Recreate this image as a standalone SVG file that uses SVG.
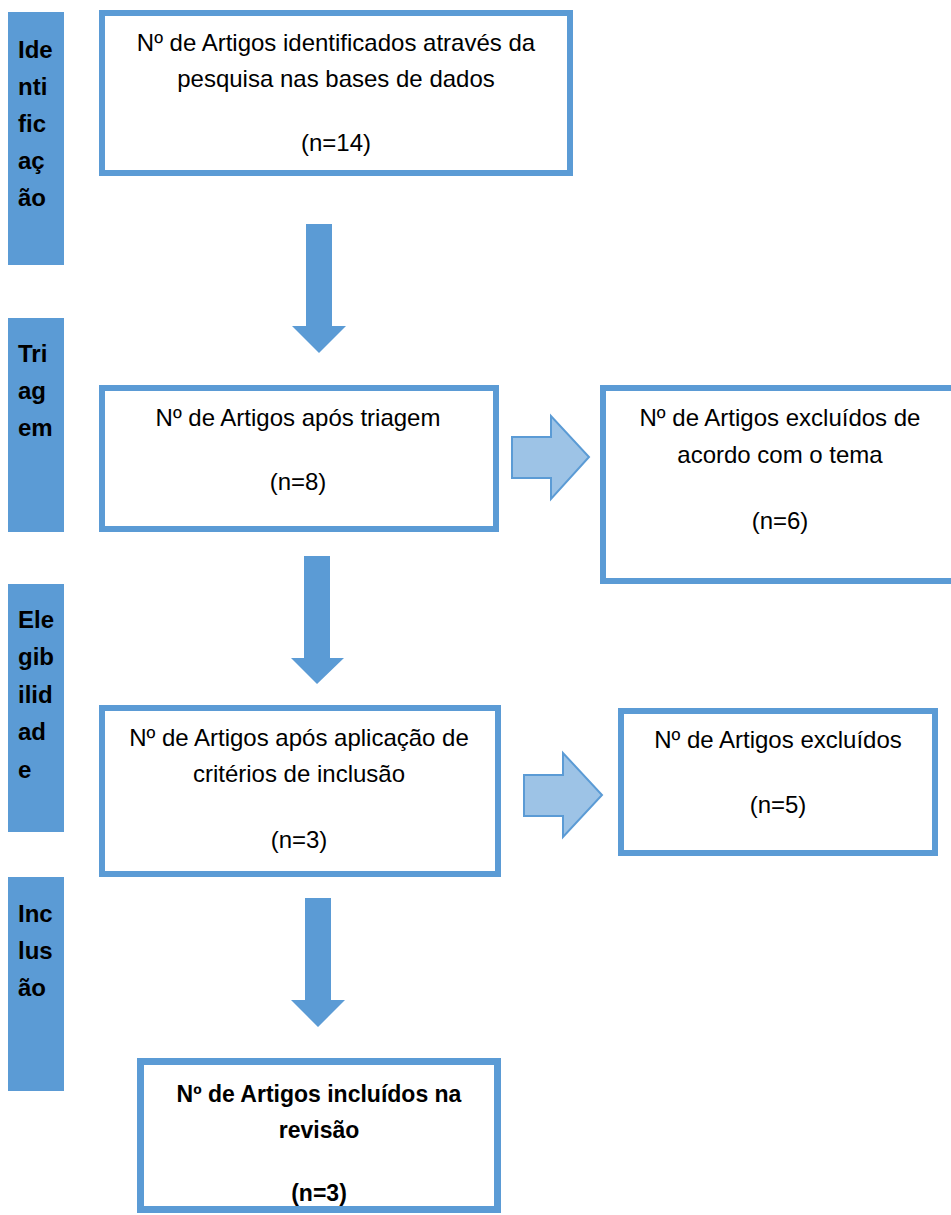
<svg xmlns="http://www.w3.org/2000/svg" width="951" height="1215" viewBox="0 0 951 1215">
<style>
.bar{fill:#5B9BD5}
.box{fill:#fff;stroke:#5B9BD5;stroke-width:6}
.lbl{font-family:"Liberation Sans",Arial,sans-serif;font-weight:bold;font-size:24px;fill:#000}
.t{font-family:"Liberation Sans",Arial,sans-serif;font-size:24px;fill:#000;text-anchor:middle}
.tb{font-family:"Liberation Sans",Arial,sans-serif;font-size:23px;font-weight:bold;fill:#000;text-anchor:middle}
.down{fill:#5B9BD5}
.right{fill:#9DC3E6;stroke:#5B9BD5;stroke-width:2}
</style>
<rect width="951" height="1215" fill="#fff"/>
<g id="stage-identificacao">
<rect class="bar" x="8" y="12" width="56" height="253"/>
<text class="lbl" x="18" y="58">Ide</text>
<text class="lbl" x="18" y="95">nti</text>
<text class="lbl" x="18" y="132">fic</text>
<text class="lbl" x="18" y="169">aç</text>
<text class="lbl" x="18" y="206">ão</text>
</g>
<g id="stage-triagem">
<rect class="bar" x="8" y="318" width="56" height="214"/>
<text class="lbl" x="18" y="362">Tri</text>
<text class="lbl" x="18" y="399">ag</text>
<text class="lbl" x="18" y="436">em</text>
</g>
<g id="stage-elegibilidade">
<rect class="bar" x="8" y="584" width="56" height="248"/>
<text class="lbl" x="18" y="628">Ele</text>
<text class="lbl" x="18" y="665">gib</text>
<text class="lbl" x="18" y="703">ilid</text>
<text class="lbl" x="18" y="740">ad</text>
<text class="lbl" x="18" y="778">e</text>
</g>
<g id="stage-inclusao">
<rect class="bar" x="8" y="877" width="56" height="214"/>
<text class="lbl" x="18" y="922">Inc</text>
<text class="lbl" x="18" y="959">lus</text>
<text class="lbl" x="18" y="996">ão</text>
</g>
<g id="box-identificados">
<rect class="box" x="102" y="13" width="468" height="160"/>
<text class="t" x="336" y="51">Nº de Artigos identificados através da</text>
<text class="t" x="336" y="87">pesquisa nas bases de dados</text>
<text class="t" x="336" y="151">(n=14)</text>
</g>
<g id="box-triagem">
<rect class="box" x="102" y="388" width="394" height="141"/>
<text class="t" x="298" y="426">Nº de Artigos após triagem</text>
<text class="t" x="298" y="490">(n=8)</text>
</g>
<g id="box-excluidos-tema">
<rect class="box" x="603" y="388" width="360" height="193"/>
<text class="t" x="780" y="426">Nº de Artigos excluídos de</text>
<text class="t" x="780" y="463">acordo com o tema</text>
<text class="t" x="780" y="529">(n=6)</text>
</g>
<g id="box-aplicacao">
<rect class="box" x="102" y="708" width="396" height="166"/>
<text class="t" x="299" y="746">Nº de Artigos após aplicação de</text>
<text class="t" x="299" y="782">critérios de inclusão</text>
<text class="t" x="299" y="848">(n=3)</text>
</g>
<g id="box-excluidos">
<rect class="box" x="621" y="711" width="314" height="142"/>
<text class="t" x="778" y="748">Nº de Artigos excluídos</text>
<text class="t" x="778" y="813">(n=5)</text>
</g>
<g id="box-incluidos">
<rect class="box" x="140.5" y="1061.5" width="357" height="148" style="stroke-width:7"/>
<text class="tb" x="319" y="1102">Nº de Artigos incluídos na</text>
<text class="tb" x="319" y="1138">revisão</text>
<text class="tb" x="319" y="1201">(n=3)</text>
</g>
<g id="connectors">
<polygon class="down" points="306,224 332,224 332,326 346,326 319,353 292,326 306,326"/>
<polygon class="down" points="304,556 330,556 330,658 344,658 317,684 291,658 304,658"/>
<polygon class="down" points="305,898 331,898 331,1000 345,1000 318,1027 291,1000 305,1000"/>
<polygon class="right" points="512,437 551,437 551,416 589,457 551,499 551,478 512,478"/>
<polygon class="right" points="524,775 563,775 563,753 602,795 563,837 563,816 524,816"/>
</g>
</svg>
